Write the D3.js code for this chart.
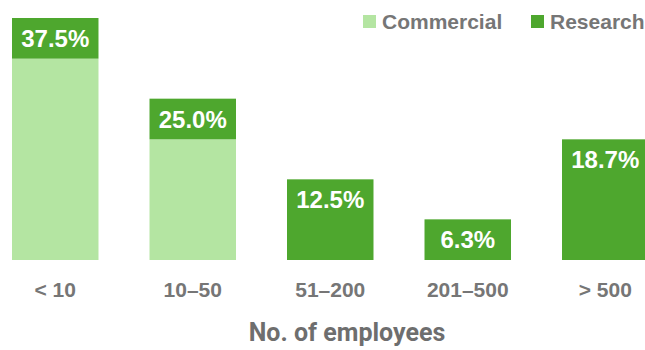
<!DOCTYPE html>
<html>
<head>
<meta charset="utf-8">
<script src="https://cdn.jsdelivr.net/npm/d3@7"></script>
<style>
  html, body { margin: 0; padding: 0; background: #ffffff; }
  svg { display: block; }
</style>
</head>
<body>
<svg id="chart" width="645" height="350"></svg>
<script>
// Company size groups and the share of respondents in each, split by sector (%)
const categories = ["< 10", "10–50", "51–200", "201–500", "> 500"];
const commercial = [31.2, 18.7, 0, 0, 0];
const research = [6.3, 6.3, 12.5, 6.3, 18.7];
const seriesNames = ["Commercial", "Research"];
const axisTitle = "No. of employees";

const colors = { Commercial: "#b4e5a2", Research: "#4ea72e" };
const textGray = "#767676";

const rows = categories.map((c, i) => ({
  category: c,
  Commercial: commercial[i],
  Research: research[i]
}));
const totals = rows.map(r => Math.round((r.Commercial + r.Research) * 10) / 10);

const svg = d3.select("#chart");

const x = d3.scaleBand()
  .domain(categories)
  .range([12, 648.5])
  .paddingInner(0.371)
  .paddingOuter(0);

const y = d3.scaleLinear()
  .domain([0, d3.max(totals)])
  .range([260, 18]);

const stacked = d3.stack().keys(seriesNames)(rows);

// Stacked bars
svg.append("g")
  .selectAll("g")
  .data(stacked)
  .join("g")
  .attr("fill", d => colors[d.key])
  .selectAll("rect")
  .data(d => d.filter(s => s[1] - s[0] > 0))
  .join("rect")
  .attr("x", d => x(d.data.category))
  .attr("y", d => y(d[1]))
  .attr("width", x.bandwidth())
  .attr("height", d => y(d[0]) - y(d[1]));

// Total share printed inside the top of each bar
svg.append("g")
  .selectAll("text")
  .data(categories)
  .join("text")
  .attr("x", c => x(c) + x.bandwidth() / 2)
  .attr("y", (c, i) => y(totals[i]) + 29)
  .attr("text-anchor", "middle")
  .attr("fill", "#ffffff")
  .style("font-family", "'Liberation Sans', Arial, sans-serif")
  .style("font-weight", "bold")
  .style("font-size", "24px")
  .text((c, i) => totals[i].toFixed(1) + "%");

// Category axis
const xAxis = svg.append("g")
  .attr("transform", "translate(0,260)")
  .call(d3.axisBottom(x).tickSize(0).tickPadding(22));
xAxis.select(".domain").remove();
xAxis.selectAll("text")
  .attr("fill", textGray)
  .style("font-family", "'Liberation Sans', Arial, sans-serif")
  .style("font-weight", "bold")
  .style("font-size", "21px");

// Axis title
svg.append("text")
  .attr("x", 347)
  .attr("y", 341)
  .attr("text-anchor", "middle")
  .attr("fill", "#6e6e6e")
  .style("font-family", "Roboto, 'Noto Sans', sans-serif")
  .style("font-weight", "bold")
  .style("font-size", "25px")
  .text(axisTitle);

// Legend
const legendX = [363, 531];
const legend = svg.append("g")
  .selectAll("g")
  .data(seriesNames)
  .join("g")
  .attr("transform", (d, i) => `translate(${legendX[i]},15)`);
legend.append("rect")
  .attr("width", 13)
  .attr("height", 13)
  .attr("fill", d => colors[d]);
legend.append("text")
  .attr("x", 19)
  .attr("y", 13.5)
  .attr("fill", textGray)
  .style("font-family", "'Liberation Sans', Arial, sans-serif")
  .style("font-weight", "bold")
  .style("font-size", "21px")
  .text(d => d);
</script>
</body>
</html>
